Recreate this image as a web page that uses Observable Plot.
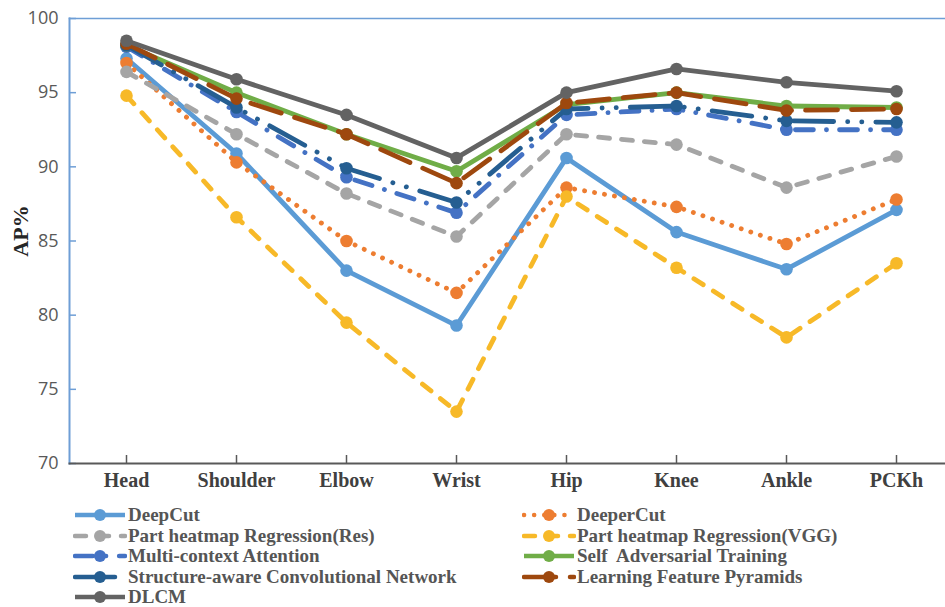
<!DOCTYPE html>
<html><head><meta charset="utf-8">
<script src="https://cdn.jsdelivr.net/npm/d3@7"></script>
<script src="https://cdn.jsdelivr.net/npm/@observablehq/plot@0.6"></script>
<style>
body{margin:0;background:#fff;width:945px;height:607px;overflow:hidden;position:relative}
#chart{position:absolute;left:0;top:0}
#ylabel{position:absolute;left:21px;top:231px;transform:translate(-50%,-50%) rotate(-90deg);font-family:"Liberation Serif";font-weight:bold;font-size:22px;color:#262626;white-space:nowrap}
#legend{position:absolute;top:505px;left:0;width:945px;font-family:"Liberation Serif";font-weight:bold;font-size:19px;color:#555555}
.item{position:absolute;height:20.5px;display:flex;align-items:center;white-space:pre}
.item svg{margin-right:1px}
</style></head>
<body>
<div id="chart"></div>
<div id="ylabel">AP%</div>
<div id="legend"></div>
<script>
const parts = ["Head","Shoulder","Elbow","Wrist","Hip","Knee","Ankle","PCKh"];
const yTicks = [70,75,80,85,90,95,100];
const seriesNames = ["DeepCut","DeeperCut","Part heatmap Regression(Res)","Part heatmap Regression(VGG)","Multi-context Attention","Self  Adversarial Training","Structure-aware Convolutional Network","Learning Feature Pyramids","DLCM"];
const deepCut      = [97.3, 90.9, 83.0, 79.3, 90.6, 85.6, 83.1, 87.1];
const deeperCut    = [97.0, 90.3, 85.0, 81.5, 88.6, 87.3, 84.8, 87.8];
const phrRes       = [96.4, 92.2, 88.2, 85.3, 92.2, 91.5, 88.6, 90.7];
const phrVGG       = [94.8, 86.6, 79.5, 73.5, 88.0, 83.2, 78.5, 83.5];
const multiContext = [98.1, 93.7, 89.3, 86.9, 93.5, 93.9, 92.5, 92.5];
const selfAdv      = [98.2, 95.0, 92.2, 89.7, 94.2, 95.0, 94.1, 94.0];
const scn          = [98.2, 94.0, 89.9, 87.6, 93.9, 94.1, 93.1, 93.0];
const lfp          = [98.3, 94.6, 92.2, 88.9, 94.3, 95.0, 93.8, 93.9];
const dlcm         = [98.5, 95.9, 93.5, 90.6, 95.0, 96.6, 95.7, 95.1];
const seriesValues = [deepCut, deeperCut, phrRes, phrVGG, multiContext, selfAdv, scn, lfp, dlcm];
const colors = ["#5B9BD5","#ED7D31","#A5A5A5","#F7B928","#4472C4","#70AD47","#255E91","#9E480E","#636363"];
const dashes = [null,"0.1,10","11,12","11,12","18,13,0.1,13",null,"40,14,0.1,14,0.1,14","32,14",null];

const W = 945, H = 500, mL = 69, mT = 18, mB = 37, mR = 0;
const frameW = W - mL - mR, frameH = H - mT - mB;

const marks = [];
seriesNames.forEach((name, k) => {
  const data = parts.map((p, i) => ({part: p, value: seriesValues[k][i]}));
  marks.push(Plot.line(data, {x: "part", y: "value", stroke: colors[k], strokeWidth: 4.8,
    strokeDasharray: dashes[k] || undefined, strokeLinecap: dashes[k] ? "round" : "butt", strokeLinejoin: "round"}));
  marks.push(Plot.dot(data, {x: "part", y: "value", r: 6.3, fill: colors[k], stroke: null}));
});

const plot = Plot.plot({
  width: W, height: H,
  marginLeft: mL, marginTop: mT, marginBottom: mB, marginRight: mR,
  x: {type: "point", domain: parts, range: [mL, mL + 884], padding: 0.5},
  y: {domain: [70, 100]},
  marks: [
    Plot.frame({anchor: "top", stroke: "#6E9ED6", strokeWidth: 1.5}),
    Plot.ruleY(yTicks, {y: d => d, insetRight: frameW - 7, stroke: "#6E9ED6", strokeWidth: 1.5}),
    Plot.ruleX(parts, {x: d => d, insetTop: frameH - 8, stroke: "#595959", strokeWidth: 1.5}),
    ...marks,
    Plot.frame({anchor: "left", stroke: "#6E9ED6", strokeWidth: 2}),
    Plot.frame({anchor: "bottom", stroke: "#595959", strokeWidth: 2}),
    Plot.axisY({ticks: yTicks, tickSize: 0, tickPadding: 11, fontSize: 18, fontFamily: "Open Sans", fill: "#595959", label: null}),
    Plot.axisX({tickSize: 0, tickPadding: 9, fontSize: 20, fontWeight: "bold", fontFamily: "Liberation Serif", fill: "#404040", label: null})
  ]
});
document.getElementById("chart").appendChild(plot);

const legend = document.getElementById("legend");
seriesNames.forEach((name, k) => {
  const col = k % 2, row = Math.floor(k / 2);
  const div = document.createElement("div");
  div.className = "item";
  div.style.left = (col ? 522 : 73) + "px";
  div.style.top = (row * 20.5) + "px";
  const dash = dashes[k] ? `stroke-dasharray="${dashes[k]}" stroke-linecap="round"` : "";
  div.innerHTML = `<svg width="54" height="14"><line x1="2" x2="52" y1="7" y2="7" stroke="${colors[k]}" stroke-width="4.5" ${dash}/><circle cx="27" cy="7" r="6" fill="${colors[k]}"/></svg><span>${name}</span>`;
  legend.appendChild(div);
});
</script>
</body></html>
